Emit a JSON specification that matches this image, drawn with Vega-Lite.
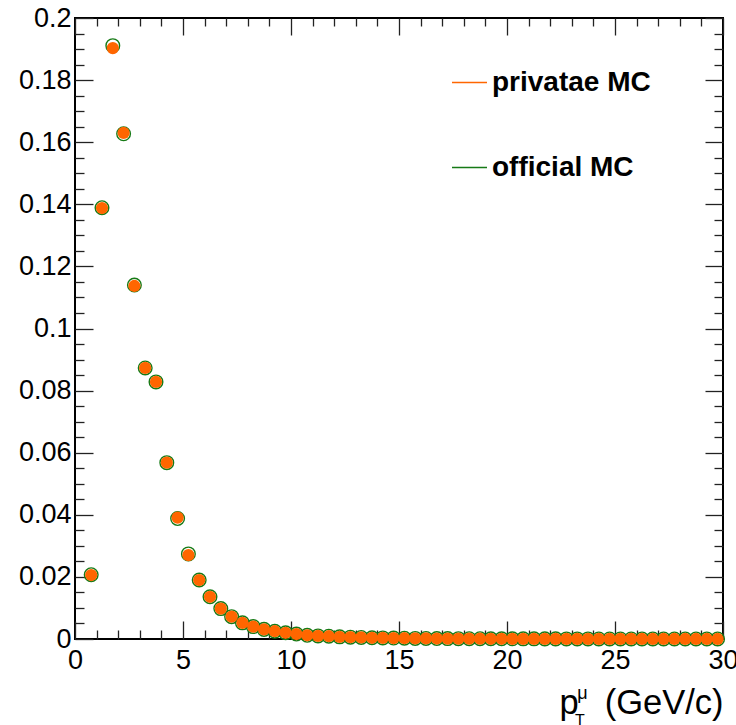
{
  "$schema": "https://vega.github.io/schema/vega-lite/v6.json",
  "width": 648,
  "height": 621,
  "autosize": {"type": "none"},
  "padding": {"left": 75, "top": 18, "right": 13, "bottom": 86},
  "background": "white",
  "config": {
    "view": {"stroke": "#000", "strokeWidth": 2},
    "font": "Liberation Sans",
    "axis": {"grid": false, "domain": false, "tickColor": "#222", "tickWidth": 1.3, "labelColor": "#000", "labelFont": "Liberation Sans", "labelFontSize": 27, "labelOverlap": false, "labelFlush": false}
  },
  "datasets": {
    "hist": [
      {"pt": 0.75, "priv": 0.0206, "off": 0.0207},
      {"pt": 1.25, "priv": 0.1388, "off": 0.1389},
      {"pt": 1.75, "priv": 0.1903, "off": 0.1911},
      {"pt": 2.25, "priv": 0.1630, "off": 0.1627},
      {"pt": 2.75, "priv": 0.1137, "off": 0.1140},
      {"pt": 3.25, "priv": 0.0873, "off": 0.0873},
      {"pt": 3.75, "priv": 0.0828, "off": 0.0828},
      {"pt": 4.25, "priv": 0.0568, "off": 0.0568},
      {"pt": 4.75, "priv": 0.0391, "off": 0.0388},
      {"pt": 5.25, "priv": 0.0270, "off": 0.0274},
      {"pt": 5.75, "priv": 0.0190, "off": 0.0190},
      {"pt": 6.25, "priv": 0.0136, "off": 0.0136},
      {"pt": 6.75, "priv": 0.0098, "off": 0.0098},
      {"pt": 7.25, "priv": 0.0072, "off": 0.0072},
      {"pt": 7.75, "priv": 0.0052, "off": 0.0052},
      {"pt": 8.25, "priv": 0.0040, "off": 0.0040},
      {"pt": 8.75, "priv": 0.0031, "off": 0.0031},
      {"pt": 9.25, "priv": 0.0025, "off": 0.0025},
      {"pt": 9.75, "priv": 0.0020, "off": 0.0020},
      {"pt": 10.25, "priv": 0.0016, "off": 0.0016},
      {"pt": 10.75, "priv": 0.0012, "off": 0.0012},
      {"pt": 11.25, "priv": 0.0010, "off": 0.0010},
      {"pt": 11.75, "priv": 0.0009, "off": 0.0009},
      {"pt": 12.25, "priv": 0.0007, "off": 0.0007},
      {"pt": 12.75, "priv": 0.0006, "off": 0.0006},
      {"pt": 13.25, "priv": 0.0005, "off": 0.0005},
      {"pt": 13.75, "priv": 0.0004, "off": 0.0004},
      {"pt": 14.25, "priv": 0.00035, "off": 0.00035},
      {"pt": 14.75, "priv": 0.0003, "off": 0.0003},
      {"pt": 15.25, "priv": 0.00025, "off": 0.00025},
      {"pt": 15.75, "priv": 0.0002, "off": 0.0002},
      {"pt": 16.25, "priv": 0.00018, "off": 0.00018},
      {"pt": 16.75, "priv": 0.00015, "off": 0.00015},
      {"pt": 17.25, "priv": 0.00013, "off": 0.00013},
      {"pt": 17.75, "priv": 0.00011, "off": 0.00011},
      {"pt": 18.25, "priv": 0.0001, "off": 0.0001},
      {"pt": 18.75, "priv": 0.00009, "off": 0.00009},
      {"pt": 19.25, "priv": 0.00008, "off": 0.00008},
      {"pt": 19.75, "priv": 0.00007, "off": 0.00007},
      {"pt": 20.25, "priv": 0.00006, "off": 0.00006},
      {"pt": 20.75, "priv": 0.00005, "off": 0.00005},
      {"pt": 21.25, "priv": 0.00005, "off": 0.00005},
      {"pt": 21.75, "priv": 0.00004, "off": 0.00004},
      {"pt": 22.25, "priv": 0.00004, "off": 0.00004},
      {"pt": 22.75, "priv": 0.00003, "off": 0.00003},
      {"pt": 23.25, "priv": 0.00003, "off": 0.00003},
      {"pt": 23.75, "priv": 0.00003, "off": 0.00003},
      {"pt": 24.25, "priv": 0.00002, "off": 0.00002},
      {"pt": 24.75, "priv": 0.00002, "off": 0.00002},
      {"pt": 25.25, "priv": 0.00002, "off": 0.00002},
      {"pt": 25.75, "priv": 0.00002, "off": 0.00002},
      {"pt": 26.25, "priv": 0.00001, "off": 0.00001},
      {"pt": 26.75, "priv": 0.00001, "off": 0.00001},
      {"pt": 27.25, "priv": 0.00001, "off": 0.00001},
      {"pt": 27.75, "priv": 0.00001, "off": 0.00001},
      {"pt": 28.25, "priv": 0.00001, "off": 0.00001},
      {"pt": 28.75, "priv": 0.00001, "off": 0.00001},
      {"pt": 29.25, "priv": 0.00001, "off": 0.00001},
      {"pt": 29.75, "priv": 0.00001, "off": 0.00001}
    ],
    "one": [{"label": "axis"}]
  },
  "layer": [
    {
      "data": {"name": "hist"},
      "mark": {"type": "point", "shape": "circle", "filled": false, "size": 185, "strokeWidth": 1.4, "opacity": 1},
      "encoding": {
        "x": {
          "field": "pt", "type": "quantitative",
          "scale": {"domain": [0, 30], "nice": false, "zero": false},
          "axis": {
            "orient": "bottom",
            "values": [0,1,2,3,4,5,6,7,8,9,10,11,12,13,14,15,16,17,18,19,20,21,22,23,24,25,26,27,28,29,30],
            "labelExpr": "datum.value % 5 === 0 ? datum.label : ''",
            "tickSize": {"condition": {"test": "datum.value % 5 === 0", "value": -18}, "value": -9},
            "labelPadding": 26,
            "title": "p\u00a0\u00a0\u2009(GeV/c)",
            "titleFont": "Liberation Sans",
            "titleFontSize": 34.5,
            "titleFontWeight": "normal",
            "titleColor": "#000",
            "titleAnchor": "end",
            "titleAlign": "right",
            "titleBaseline": "alphabetic",
            "titleX": 648,
            "titleY": 74
          }
        },
        "y": {
          "field": "off", "type": "quantitative",
          "scale": {"domain": [0, 0.2], "nice": false},
          "axis": {
            "orient": "left",
            "values": [0,0.005,0.01,0.015,0.02,0.025,0.03,0.035,0.04,0.045,0.05,0.055,0.06,0.065,0.07,0.075,0.08,0.085,0.09,0.095,0.1,0.105,0.11,0.115,0.12,0.125,0.13,0.135,0.14,0.145,0.15,0.155,0.16,0.165,0.17,0.175,0.18,0.185,0.19,0.195,0.2],
            "labelExpr": "abs(datum.value*50 - round(datum.value*50)) < 1e-6 ? format(datum.value, '~g') : ''",
            "tickSize": {"condition": {"test": "abs(datum.value*50 - round(datum.value*50)) < 1e-6", "value": -18}, "value": -9},
            "labelPadding": 22,
            "title": null
          }
        },
        "color": {
          "datum": "official MC", "type": "nominal",
          "scale": {"domain": ["privatae MC", "official MC"], "range": ["#ff6600", "#167a16"]},
          "legend": {
            "orient": "none", "legendX": 376, "legendY": 46,
            "title": null,
            "symbolType": "stroke", "symbolSize": 1225, "symbolStrokeWidth": 1.5,
            "labelFont": "Liberation Sans", "labelFontSize": 28, "labelFontWeight": "bold", "labelColor": "#000",
            "labelOffset": 4, "labelLimit": 0, "rowPadding": 52,
            "encode": {"symbols": {"update": {"stroke": {"signal": "datum.value === 'privatae MC' ? '#ff9a5c' : '#0e6b0e'"}, "fill": {"value": "transparent"}, "strokeWidth": {"value": 1.5}, "opacity": {"value": 1}}}}
          }
        }
      }
    },
    {
      "data": {"name": "hist"},
      "mark": {"type": "point", "shape": "circle", "filled": true, "size": 150, "strokeWidth": 0, "opacity": 1},
      "encoding": {
        "x": {
          "field": "pt", "type": "quantitative",
          "axis": {
            "orient": "top",
            "values": [0,1,2,3,4,5,6,7,8,9,10,11,12,13,14,15,16,17,18,19,20,21,22,23,24,25,26,27,28,29,30],
            "labels": false, "title": null,
            "tickSize": {"condition": {"test": "datum.value % 5 === 0", "value": -17}, "value": -8}
          }
        },
        "y": {
          "field": "priv", "type": "quantitative",
          "axis": {
            "orient": "right",
            "values": [0,0.005,0.01,0.015,0.02,0.025,0.03,0.035,0.04,0.045,0.05,0.055,0.06,0.065,0.07,0.075,0.08,0.085,0.09,0.095,0.1,0.105,0.11,0.115,0.12,0.125,0.13,0.135,0.14,0.145,0.15,0.155,0.16,0.165,0.17,0.175,0.18,0.185,0.19,0.195,0.2],
            "labels": false, "title": null,
            "tickSize": {"condition": {"test": "abs(datum.value*50 - round(datum.value*50)) < 1e-6", "value": -18}, "value": -9}
          }
        },
        "color": {"datum": "privatae MC", "type": "nominal"}
      }
    },
    {
      "data": {"name": "one"},
      "mark": {"type": "text", "text": "μ", "font": "Liberation Sans", "fontSize": 18, "align": "left", "baseline": "alphabetic", "color": "#000"},
      "encoding": {
        "x": {"datum": 23.25, "type": "quantitative", "axis": null},
        "y": {"datum": -0.0194, "type": "quantitative", "axis": null}
      }
    },
    {
      "data": {"name": "one"},
      "mark": {"type": "text", "text": "T", "font": "Liberation Sans", "fontSize": 16, "align": "left", "baseline": "alphabetic", "color": "#000"},
      "encoding": {
        "x": {"datum": 23.15, "type": "quantitative", "axis": null},
        "y": {"datum": -0.0281, "type": "quantitative", "axis": null}
      }
    }
  ]
}
